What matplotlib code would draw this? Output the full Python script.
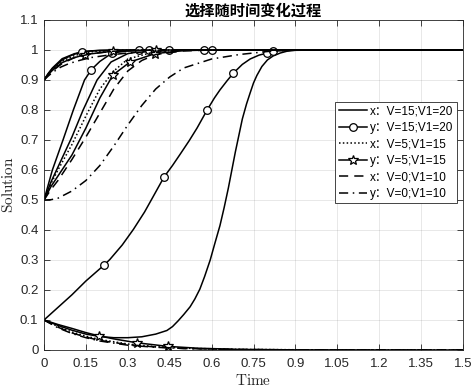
import matplotlib
matplotlib.use("Agg")
import matplotlib.pyplot as plt
import numpy as np

plt.rcParams['font.family'] = ['Liberation Sans', 'Noto Sans CJK SC', 'DejaVu Sans']
plt.rcParams['mathtext.fontset'] = 'cm'

# ---------------- data ----------------
TITLE = "选择随时间变化过程"
XLABEL = "Time"
YLABEL = "Solution"
XTICKS = [0, 0.15, 0.3, 0.45, 0.6, 0.75, 0.9, 1.05, 1.2, 1.35, 1.5]
XTICKLABELS = ["0", "0.15", "0.3", "0.45", "0.6", "0.75", "0.9", "1.05", "1.2", "1.35", "1.5"]
YTICKS = [0, 0.1, 0.2, 0.3, 0.4, 0.5, 0.6, 0.7, 0.8, 0.9, 1.0, 1.1]
YTICKLABELS = ["0", "0.1", "0.2", "0.3", "0.4", "0.5", "0.6", "0.7", "0.8", "0.9", "1", "1.1"]
LABELS = ["x：V=15;V1=20", "y：V=15;V1=20", "x：V=5;V1=15",
          "y：V=5;V1=15", "x：V=0;V1=10", "y：V=0;V1=10"]

# x, V=15;V1=20 (three initial values 0.9 / 0.5 / 0.1)
X15_T = [[0, 0.015, 0.03, 0.065, 0.11, 0.17, 0.25, 1.5],
         [0, 0.025, 0.05, 0.1, 0.14, 0.19, 0.24, 0.3, 0.36, 0.45, 1.5],
         [0, 0.05, 0.1, 0.15, 0.2, 0.25, 0.3, 0.35, 0.4, 0.44, 0.46, 0.48, 0.5, 0.523, 0.54,
          0.558, 0.575, 0.595, 0.61, 0.63, 0.645, 0.66, 0.685, 0.71, 0.725, 0.738, 0.75,
          0.762, 0.78, 0.8, 0.82, 0.846, 0.87, 0.9, 1.0, 1.5]]
X15_V = [[0.9, 0.922, 0.94, 0.971, 0.988, 0.997, 1.0, 1.0],
         [0.5, 0.56, 0.61, 0.71, 0.8, 0.9, 0.96, 0.988, 0.997, 1.0, 1.0],
         [0.1, 0.082, 0.066, 0.053, 0.045, 0.041, 0.041, 0.044, 0.053, 0.065, 0.078, 0.097,
          0.118, 0.144, 0.17, 0.203, 0.245, 0.3, 0.35, 0.415, 0.475, 0.54, 0.66, 0.77, 0.82,
          0.857, 0.89, 0.915, 0.945, 0.967, 0.98, 0.99, 0.996, 0.999, 1.0, 1.0]]

# y, V=15;V1=20
Y15_T = [[0, 0.015, 0.03, 0.065, 0.1, 0.136, 0.2, 0.34, 0.573, 1.5],
         [0, 0.03, 0.068, 0.105, 0.145, 0.17, 0.2, 0.244, 0.3, 0.376, 0.448, 0.6, 1.5],
         [0, 0.05, 0.1, 0.15, 0.215, 0.236, 0.28, 0.32, 0.36, 0.39, 0.43, 0.46, 0.487,
          0.52, 0.548, 0.584, 0.61, 0.63, 0.655, 0.678, 0.71, 0.738, 0.77, 0.8, 0.82,
          0.9, 1.5]]
Y15_V = [[0.9, 0.92, 0.937, 0.967, 0.983, 0.995, 0.999, 1.0, 1.0, 1.0],
         [0.5, 0.6, 0.7, 0.8, 0.9, 0.935, 0.962, 0.99, 0.997, 1.0, 1.0, 1.0, 1.0],
         [0.1, 0.142, 0.184, 0.23, 0.283, 0.302, 0.35, 0.402, 0.46, 0.51, 0.577, 0.615,
          0.652, 0.698, 0.74, 0.8, 0.84, 0.867, 0.897, 0.923, 0.952, 0.97, 0.983, 0.99,
          0.996, 1.0, 1.0]]
Y15_MARK_T = [[0.136, 0.34, 0.573],
              [0.17, 0.244, 0.376, 0.448, 0.6],
              [0.215, 0.43, 0.584, 0.678, 0.8, 0.82]]

# x, V=5;V1=15
X5_T = [[0, 0.015, 0.03, 0.065, 0.11, 0.17, 0.25, 0.35, 1.5],
        [0, 0.025, 0.05, 0.1, 0.15, 0.2, 0.25, 0.3, 0.4, 0.5, 1.5],
        [0, 0.05, 0.1, 0.15, 0.2, 0.3, 0.4, 0.5, 0.7, 1.0, 1.5]]
X5_V = [[0.9, 0.919, 0.935, 0.963, 0.982, 0.994, 0.999, 1.0, 1.0],
        [0.5, 0.555, 0.6, 0.685, 0.78, 0.87, 0.93, 0.97, 0.995, 1.0, 1.0],
        [0.1, 0.078, 0.06, 0.046, 0.035, 0.02, 0.011, 0.006, 0.002, 0.0003, 0.0]]

# y, V=5;V1=15
Y5_T = [[0, 0.015, 0.03, 0.065, 0.1, 0.148, 0.246, 0.4, 1.5],
        [0, 0.025, 0.05, 0.1, 0.15, 0.2, 0.247, 0.308, 0.398, 0.5, 0.6, 1.5],
        [0, 0.05, 0.1, 0.15, 0.197, 0.25, 0.333, 0.444, 0.55, 0.7, 0.9, 1.5]]
Y5_V = [[0.9, 0.918, 0.932, 0.958, 0.972, 0.985, 0.996, 1.0, 1.0],
        [0.5, 0.545, 0.58, 0.65, 0.74, 0.84, 0.917, 0.96, 0.988, 0.998, 1.0, 1.0],
        [0.1, 0.085, 0.072, 0.058, 0.047, 0.037, 0.024, 0.012, 0.006, 0.002, 0.0005, 0.0]]
Y5_MARK_T = [[0.148, 0.246, 0.4],
             [0.247, 0.308, 0.398],
             [0.197, 0.333, 0.444]]

# x, V=0;V1=10
X0_T = [[0, 0.015, 0.03, 0.065, 0.11, 0.17, 0.25, 0.35, 0.45, 1.5],
        [0, 0.025, 0.05, 0.1, 0.15, 0.2, 0.25, 0.3, 0.35, 0.4, 0.5, 0.6, 1.5],
        [0, 0.05, 0.1, 0.15, 0.2, 0.3, 0.4, 0.5, 0.7, 1.0, 1.5]]
X0_V = [[0.9, 0.917, 0.93, 0.955, 0.975, 0.988, 0.996, 0.999, 1.0, 1.0],
        [0.5, 0.535, 0.565, 0.635, 0.71, 0.79, 0.87, 0.93, 0.965, 0.985, 0.997, 1.0, 1.0],
        [0.1, 0.076, 0.057, 0.043, 0.032, 0.018, 0.01, 0.005, 0.0015, 0.0002, 0.0]]

# y, V=0;V1=10
Y0_T = [[0, 0.015, 0.03, 0.06, 0.09, 0.13, 0.17, 0.23, 0.3, 0.4, 0.5, 0.6, 1.5],
        [0, 0.025, 0.05, 0.1, 0.15, 0.2, 0.25, 0.3, 0.35, 0.4, 0.45, 0.5, 0.6, 0.7, 0.8,
         0.9, 1.5],
        [0, 0.05, 0.1, 0.15, 0.2, 0.3, 0.4, 0.5, 0.7, 1.0, 1.5]]
Y0_V = [[0.9, 0.913, 0.925, 0.943, 0.955, 0.966, 0.975, 0.983, 0.99, 0.996, 0.999, 1.0, 1.0],
        [0.5, 0.501, 0.506, 0.53, 0.565, 0.615, 0.68, 0.75, 0.815, 0.87, 0.91, 0.94, 0.97,
         0.985, 0.995, 1.0, 1.0],
        [0.1, 0.074, 0.055, 0.041, 0.03, 0.016, 0.009, 0.005, 0.0013, 0.0002, 0.0]]

# ---------------- figure ----------------
fig = plt.figure(figsize=(4.72, 3.88), dpi=100)
ax = fig.add_axes([44 / 472, 38 / 388, 419 / 472, 330 / 388])

AXC = '#262626'
lw = 1.1


def draw(Ts, Vs, label, ls='-', marker=None, marks=None, ms=5):
    handle = None
    for i, (t, v) in enumerate(zip(Ts, Vs)):
        kw = dict(color='black', lw=lw, ls=ls)
        if marker is not None:
            idx = [t.index(m) for m in marks[i]]
            kw.update(marker=marker, markevery=idx, ms=ms, mfc='white', mec='black', mew=0.9)
        ln, = ax.plot(t, v, label=label if i == 0 else None, **kw)
        if i == 0:
            handle = ln
    return handle


h = []
h.append(draw(X15_T, X15_V, LABELS[0], ls='-'))
h.append(draw(Y15_T, Y15_V, LABELS[1], ls='-', marker='o', marks=Y15_MARK_T, ms=5.5))
h.append(draw(X5_T, X5_V, LABELS[2], ls=(0, (1, 1.5))))
h.append(draw(Y5_T, Y5_V, LABELS[3], ls='-', marker='*', marks=Y5_MARK_T, ms=7))
h.append(draw(X0_T, X0_V, LABELS[4], ls=(0, (6, 4))))
h.append(draw(Y0_T, Y0_V, LABELS[5], ls=(0, (6, 3, 1, 3))))

ax.set_xlim(0, 1.5)
ax.set_ylim(0, 1.1)
ax.set_xticks(XTICKS)
ax.set_xticklabels(XTICKLABELS)
ax.set_yticks(YTICKS)
ax.set_yticklabels(YTICKLABELS)
ax.tick_params(direction='in', top=True, right=True, length=4, width=0.6,
               colors=AXC, labelsize=9.5)
ax.tick_params(axis='x', pad=6)
ax.tick_params(axis='y', pad=4)
for s in ax.spines.values():
    s.set_color(AXC)
    s.set_linewidth(0.6)
ax.grid(True, color=AXC, alpha=0.12, lw=0.6)
ax.set_axisbelow(True)

ax.set_title(TITLE, fontsize=11, fontweight='bold', family=['Noto Sans CJK SC'],
             pad=3, color='black')
ax.set_xlabel(r'$\mathrm{' + XLABEL + '}$', fontsize=11, color=AXC, labelpad=2)
ax.set_ylabel(r'$\mathrm{' + YLABEL + '}$', fontsize=11, color=AXC, labelpad=3)

leg = ax.legend(handles=h, loc='upper right', bbox_to_anchor=(0.986, 0.752),
                borderaxespad=0, fontsize=8.5, handlelength=2.4, handletextpad=0.25,
                labelspacing=0.38, borderpad=0.3, fancybox=False, framealpha=1,
                edgecolor=AXC)
leg.get_frame().set_linewidth(0.6)

fig.savefig('out.png', dpi=100)
